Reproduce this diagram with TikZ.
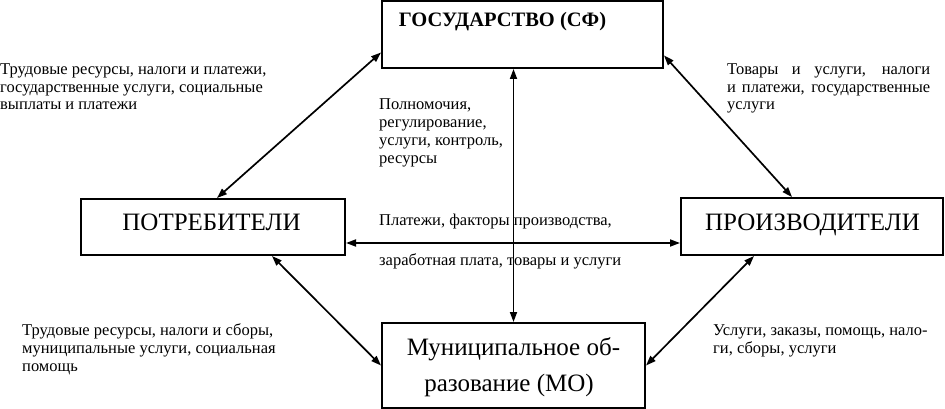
\documentclass[tikz,border=0pt]{standalone}
\usepackage{fontspec}
\setmainfont{Liberation Serif}
\usetikzlibrary{calc,arrows.meta}
\begin{document}
\begin{tikzpicture}[x=1pt,y=-1pt,
  box/.style={draw,line width=2pt,inner sep=0pt,anchor=center},
  lnk/.style={line width=1.7pt,{Triangle[length=10pt,width=7pt]}-{Triangle[length=10pt,width=7pt]}},
  txt/.style={anchor=base west,inner sep=0pt,font=\fontsize{16.5}{17.7}\selectfont},
  big/.style={font=\fontsize{25}{32}\selectfont}]
\useasboundingbox (0,0) rectangle (945,409);
\node[box,minimum width=281pt,minimum height=67pt] (gos) at (522.5,34.5) {};
\node[box,minimum width=264pt,minimum height=56pt] (potr) at (213,227) {};
\node[box,minimum width=262pt,minimum height=57pt] (proizv) at (812,226.5) {};
\node[box,minimum width=263pt,minimum height=85pt] (mo) at (513.5,365.5) {};
\node[anchor=base,inner sep=0pt,font=\fontsize{20.5}{24}\selectfont\bfseries] (gost) at (502.5,27) {ГОСУДАРСТВО (СФ)};
\node[anchor=base,inner sep=0pt,big] (potrt) at (211.5,230) {ПОТРЕБИТЕЛИ};
\node[anchor=base,inner sep=0pt,big] (proizvt) at (812.5,230) {ПРОИЗВОДИТЕЛИ};
\node[anchor=base,inner sep=0pt,big] (mot1) at (513.5,355) {Муниципальное об-};
\node[anchor=base,inner sep=0pt,big] (mot2) at (509,391) {разование (МО)};
% connectors
\coordinate (hl) at ($(potr.east)+(0,16)$);
\coordinate (hr) at (hl -| proizv.west);
\draw[lnk] ($(gos.west)+(0,18)$) -- ($(potr.north)+(4,0)$);
\draw[lnk] ($(gos.east)+(0,21)$) -- ($(proizv.north)+(-20,0)$);
\draw[lnk] (gos.south -| mo.north) -- (mo.north);
\draw[lnk] (hl) -- (hr);
\draw[lnk] ($(potr.south)+(59,0)$) -- (mo.west);
\draw[lnk] ($(proizv.south)+(-58,0)$) -- (mo.east);
% labels (base anchor = last line)
\node[txt,align=left] (tl) at (0,110) {Трудовые ресурсы, налоги и платежи,\\государственные услуги, социальные\\выплаты и платежи};
\node[txt,align=left] (tr) at (727,110) {\makebox[203pt][s]{Товары и услуги, налоги}\\\makebox[203pt][s]{и платежи, государственные}\\услуги};
\node[txt,align=left,font=\fontsize{16.5}{18.3}\selectfont] (mid) at (379,164) {Полномочия,\\регулирование,\\услуги, контроль,\\ресурсы};
\node[txt] (h1) at (379,225) {Платежи, факторы производства,};
\node[txt] (h2) at (379,265) {заработная плата, товары и услуги};
\node[txt,align=left] (bl) at (22,371) {Трудовые ресурсы, налоги и сборы,\\муниципальные услуги, социальная\\помощь};
\node[txt,align=left] (br) at (713,353) {Услуги, заказы, помощь, нало-\\ги, сборы, услуги};
\end{tikzpicture}
\end{document}
